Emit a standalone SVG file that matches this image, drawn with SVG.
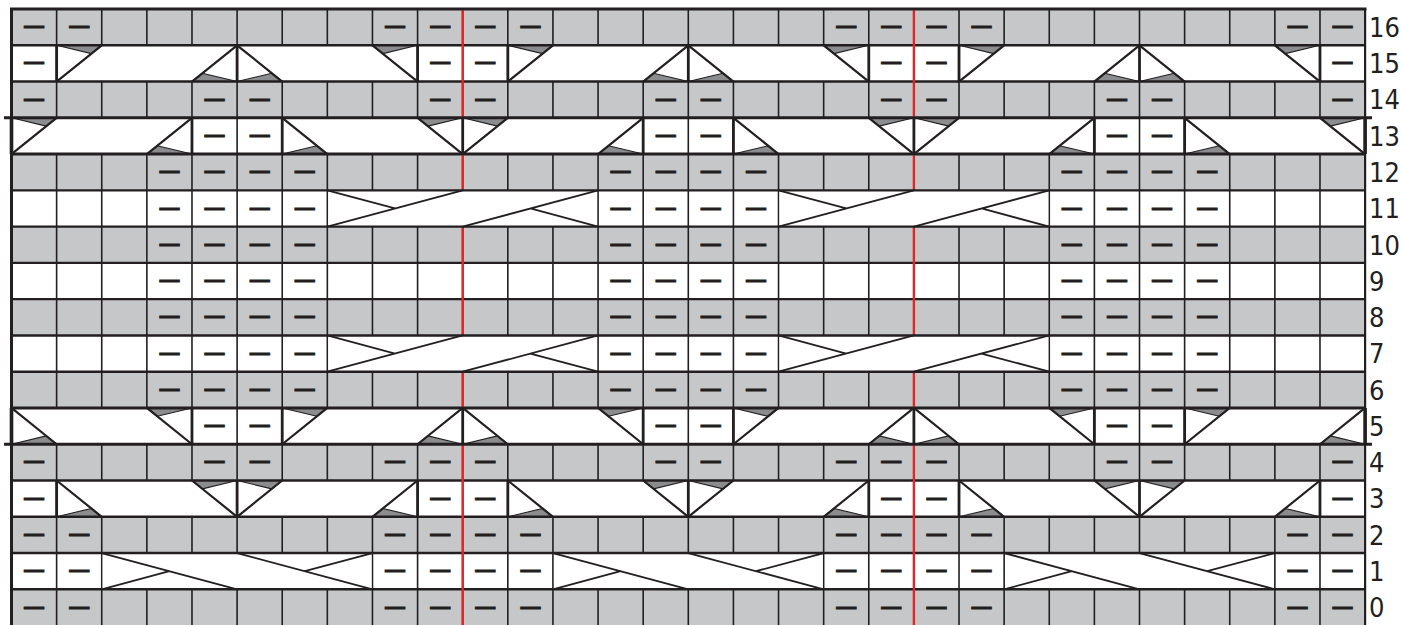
<svg xmlns="http://www.w3.org/2000/svg" width="1401" height="625" viewBox="0 0 1401 625">
<style>
.gr{fill:#c6c7c9}
.wh{fill:#ffffff}
.vl{stroke:#231f20;stroke-width:1.6;fill:none}
.vt{stroke:#231f20;stroke-width:2.8;fill:none}
.hl{stroke:#231f20;stroke-width:2.4;fill:none}
.ht{stroke:#231f20;stroke-width:3;fill:none}
.dg{stroke:#231f20;stroke-width:2.2;fill:none}
.wg{fill:#8b8c8e;stroke:#231f20;stroke-width:1.1;stroke-linejoin:round}
.cx{stroke:#231f20;stroke-width:1.8;fill:none}
.rd{stroke:#e0262b;stroke-width:2.4;fill:none}
.p text{font-family:"Liberation Sans",Arial,sans-serif;font-weight:bold;font-size:20px;text-anchor:middle;fill:#231f20;stroke:#231f20;stroke-width:0.8}
.lb text{font-family:"Liberation Sans Narrow","DejaVu Sans Condensed","Liberation Sans",sans-serif;font-stretch:condensed;font-size:27px;fill:#231f20}
</style>
<rect width="1401" height="625" fill="#ffffff"/>
<g id="rows">
<rect class="gr" x="11.5" y="9" width="1353.6" height="36.27"/>
<rect class="gr" x="11.5" y="81.54" width="1353.6" height="36.27"/>
<rect class="gr" x="11.5" y="154.08" width="1353.6" height="36.27"/>
<rect class="gr" x="11.5" y="226.62" width="1353.6" height="36.27"/>
<rect class="gr" x="11.5" y="299.16" width="1353.6" height="36.27"/>
<rect class="gr" x="11.5" y="371.7" width="1353.6" height="36.27"/>
<rect class="gr" x="11.5" y="444.24" width="1353.6" height="36.27"/>
<rect class="gr" x="11.5" y="516.78" width="1353.6" height="36.27"/>
<rect class="gr" x="11.5" y="589.32" width="1353.6" height="36.27"/>
</g>
<g id="grid-verticals">
<path class="vl" d="M56.62,9V625M101.74,9V625M146.86,9V625M191.98,9V625M237.1,9V625M282.22,9V625M327.34,9V625M372.46,9V625M417.58,9V625M462.7,9V625M507.82,9V625M552.94,9V625M598.06,9V625M643.18,9V625M688.3,9V625M733.42,9V625M778.54,9V625M823.66,9V625M868.78,9V625M913.9,9V625M959.02,9V625M1004.14,9V625M1049.26,9V625M1094.38,9V625M1139.5,9V625M1184.62,9V625M1229.74,9V625M1274.86,9V625M1319.98,9V625"/>
</g>
<g id="cable-areas">
<rect class="wh" x="57.62" y="45.27" width="358.96" height="36.27"/>
<rect class="wh" x="508.82" y="45.27" width="358.96" height="36.27"/>
<rect class="wh" x="960.02" y="45.27" width="358.96" height="36.27"/>
<rect class="wh" x="57.62" y="480.51" width="358.96" height="36.27"/>
<rect class="wh" x="508.82" y="480.51" width="358.96" height="36.27"/>
<rect class="wh" x="960.02" y="480.51" width="358.96" height="36.27"/>
<rect class="wh" x="12.5" y="117.81" width="178.48" height="36.27"/>
<rect class="wh" x="283.22" y="117.81" width="358.96" height="36.27"/>
<rect class="wh" x="734.42" y="117.81" width="358.96" height="36.27"/>
<rect class="wh" x="1185.62" y="117.81" width="178.48" height="36.27"/>
<rect class="wh" x="12.5" y="407.97" width="178.48" height="36.27"/>
<rect class="wh" x="283.22" y="407.97" width="358.96" height="36.27"/>
<rect class="wh" x="734.42" y="407.97" width="358.96" height="36.27"/>
<rect class="wh" x="1185.62" y="407.97" width="178.48" height="36.27"/>
<rect class="wh" x="328.34" y="190.35" width="268.72" height="36.27"/>
<rect class="wh" x="779.54" y="190.35" width="268.72" height="36.27"/>
<rect class="wh" x="328.34" y="335.43" width="268.72" height="36.27"/>
<rect class="wh" x="779.54" y="335.43" width="268.72" height="36.27"/>
<rect class="wh" x="102.74" y="553.05" width="268.72" height="36.27"/>
<rect class="wh" x="553.94" y="553.05" width="268.72" height="36.27"/>
<rect class="wh" x="1005.14" y="553.05" width="268.72" height="36.27"/>
</g>
<g id="cable-edges">
<path class="vt" d="M56.62,45.27V81.54M237.1,45.27V81.54M417.58,45.27V81.54M507.82,45.27V81.54M688.3,45.27V81.54M868.78,45.27V81.54M959.02,45.27V81.54M1139.5,45.27V81.54M1319.98,45.27V81.54"/>
<path class="vt" d="M56.62,480.51V516.78M237.1,480.51V516.78M417.58,480.51V516.78M507.82,480.51V516.78M688.3,480.51V516.78M868.78,480.51V516.78M959.02,480.51V516.78M1139.5,480.51V516.78M1319.98,480.51V516.78"/>
<path class="vt" d="M191.98,117.81V154.08M282.22,117.81V154.08M462.7,117.81V154.08M643.18,117.81V154.08M733.42,117.81V154.08M913.9,117.81V154.08M1094.38,117.81V154.08M1184.62,117.81V154.08"/>
<path class="vt" d="M191.98,407.97V444.24M282.22,407.97V444.24M462.7,407.97V444.24M643.18,407.97V444.24M733.42,407.97V444.24M913.9,407.97V444.24M1094.38,407.97V444.24M1184.62,407.97V444.24"/>
</g>
<g id="wedges">
<path class="wg" d="M56.62,45.27L91.36,53.61L101.74,45.27ZM191.98,81.54L202.36,73.2L237.1,81.54ZM237.1,81.54L271.84,73.2L282.22,81.54ZM372.46,45.27L382.84,53.61L417.58,45.27ZM507.82,45.27L542.56,53.61L552.94,45.27ZM643.18,81.54L653.56,73.2L688.3,81.54ZM688.3,81.54L723.04,73.2L733.42,81.54ZM823.66,45.27L834.04,53.61L868.78,45.27ZM959.02,45.27L993.76,53.61L1004.14,45.27ZM1094.38,81.54L1104.76,73.2L1139.5,81.54ZM1139.5,81.54L1174.24,73.2L1184.62,81.54ZM1274.86,45.27L1285.24,53.61L1319.98,45.27Z"/>
<path class="wg" d="M56.62,516.78L91.36,508.44L101.74,516.78ZM191.98,480.51L202.36,488.85L237.1,480.51ZM237.1,480.51L271.84,488.85L282.22,480.51ZM372.46,516.78L382.84,508.44L417.58,516.78ZM507.82,516.78L542.56,508.44L552.94,516.78ZM643.18,480.51L653.56,488.85L688.3,480.51ZM688.3,480.51L723.04,488.85L733.42,480.51ZM823.66,516.78L834.04,508.44L868.78,516.78ZM959.02,516.78L993.76,508.44L1004.14,516.78ZM1094.38,480.51L1104.76,488.85L1139.5,480.51ZM1139.5,480.51L1174.24,488.85L1184.62,480.51ZM1274.86,516.78L1285.24,508.44L1319.98,516.78Z"/>
<path class="wg" d="M11.5,117.81L46.24,126.15L56.62,117.81ZM146.86,154.08L157.24,145.74L191.98,154.08ZM282.22,154.08L316.96,145.74L327.34,154.08ZM417.58,117.81L427.96,126.15L462.7,117.81ZM462.7,117.81L497.44,126.15L507.82,117.81ZM598.06,154.08L608.44,145.74L643.18,154.08ZM733.42,154.08L768.16,145.74L778.54,154.08ZM868.78,117.81L879.16,126.15L913.9,117.81ZM913.9,117.81L948.64,126.15L959.02,117.81ZM1049.26,154.08L1059.64,145.74L1094.38,154.08ZM1184.62,154.08L1219.36,145.74L1229.74,154.08ZM1319.98,117.81L1330.36,126.15L1365.1,117.81Z"/>
<path class="wg" d="M11.5,444.24L46.24,435.9L56.62,444.24ZM146.86,407.97L157.24,416.31L191.98,407.97ZM282.22,407.97L316.96,416.31L327.34,407.97ZM417.58,444.24L427.96,435.9L462.7,444.24ZM462.7,444.24L497.44,435.9L507.82,444.24ZM598.06,407.97L608.44,416.31L643.18,407.97ZM733.42,407.97L768.16,416.31L778.54,407.97ZM868.78,444.24L879.16,435.9L913.9,444.24ZM913.9,444.24L948.64,435.9L959.02,444.24ZM1049.26,407.97L1059.64,416.31L1094.38,407.97ZM1184.62,407.97L1219.36,416.31L1229.74,407.97ZM1319.98,444.24L1330.36,435.9L1365.1,444.24Z"/>
</g>
<g id="diagonals">
<path class="dg" d="M56.62,81.54L101.74,45.27M191.98,81.54L237.1,45.27M237.1,45.27L282.22,81.54M372.46,45.27L417.58,81.54M507.82,81.54L552.94,45.27M643.18,81.54L688.3,45.27M688.3,45.27L733.42,81.54M823.66,45.27L868.78,81.54M959.02,81.54L1004.14,45.27M1094.38,81.54L1139.5,45.27M1139.5,45.27L1184.62,81.54M1274.86,45.27L1319.98,81.54"/>
<path class="dg" d="M56.62,480.51L101.74,516.78M191.98,480.51L237.1,516.78M237.1,516.78L282.22,480.51M372.46,516.78L417.58,480.51M507.82,480.51L552.94,516.78M643.18,480.51L688.3,516.78M688.3,516.78L733.42,480.51M823.66,516.78L868.78,480.51M959.02,480.51L1004.14,516.78M1094.38,480.51L1139.5,516.78M1139.5,516.78L1184.62,480.51M1274.86,516.78L1319.98,480.51"/>
<path class="dg" d="M11.5,154.08L56.62,117.81M146.86,154.08L191.98,117.81M282.22,117.81L327.34,154.08M417.58,117.81L462.7,154.08M462.7,154.08L507.82,117.81M598.06,154.08L643.18,117.81M733.42,117.81L778.54,154.08M868.78,117.81L913.9,154.08M913.9,154.08L959.02,117.81M1049.26,154.08L1094.38,117.81M1184.62,117.81L1229.74,154.08M1319.98,117.81L1365.1,154.08"/>
<path class="dg" d="M11.5,407.97L56.62,444.24M146.86,407.97L191.98,444.24M282.22,444.24L327.34,407.97M417.58,444.24L462.7,407.97M462.7,407.97L507.82,444.24M598.06,407.97L643.18,444.24M733.42,444.24L778.54,407.97M868.78,444.24L913.9,407.97M913.9,407.97L959.02,444.24M1049.26,407.97L1094.38,444.24M1184.62,444.24L1229.74,407.97M1319.98,444.24L1365.1,407.97"/>
</g>
<g id="crosses">
<path class="cx" d="M101.74,553.05L237.1,589.32M101.74,589.32L169.42,571.19M237.1,553.05L372.46,589.32M304.78,571.19L372.46,553.05M552.94,553.05L688.3,589.32M552.94,589.32L620.62,571.19M688.3,553.05L823.66,589.32M755.98,571.19L823.66,553.05M1004.14,553.05L1139.5,589.32M1004.14,589.32L1071.82,571.19M1139.5,553.05L1274.86,589.32M1207.18,571.19L1274.86,553.05"/>
<path class="cx" d="M327.34,190.35L395.02,208.49M327.34,226.62L462.7,190.35M462.7,226.62L598.06,190.35M530.38,208.49L598.06,226.62M778.54,190.35L846.22,208.49M778.54,226.62L913.9,190.35M913.9,226.62L1049.26,190.35M981.58,208.49L1049.26,226.62"/>
<path class="cx" d="M327.34,335.43L395.02,353.57M327.34,371.7L462.7,335.43M462.7,371.7L598.06,335.43M530.38,353.57L598.06,371.7M778.54,335.43L846.22,353.57M778.54,371.7L913.9,335.43M913.9,371.7L1049.26,335.43M981.58,353.57L1049.26,371.7"/>
</g>
<g id="grid-horizontals">
<path class="hl" d="M11.5,45.27H1365.1M11.5,81.54H1365.1M11.5,190.35H1365.1M11.5,226.62H1365.1M11.5,262.89H1365.1M11.5,299.16H1365.1M11.5,335.43H1365.1M11.5,371.7H1365.1M11.5,480.51H1365.1M11.5,516.78H1365.1M11.5,553.05H1365.1M11.5,589.32H1365.1"/>
<path class="ht" d="M10,9H1366.5M4,117.81H1372M11.5,154.08H1365.1M11.5,407.97H1365.1M4,444.24H1372"/>
<path class="ht" d="M11.5,9V625"/>
<path class="vl" d="M1365.1,9V625" style="stroke-width:2.2"/>
<path class="ht" d="M11.5,117.81V154.08M1365.1,117.81V154.08M11.5,407.97V444.24M1365.1,407.97V444.24" style="stroke-width:3.6"/>
</g>
<g id="red-lines">
<path class="rd" d="M462.7,10.5V116.3M462.7,155.6V188.9M462.7,228.1V334M462.7,373.2V406.5M462.7,445.7V625M913.9,10.5V116.3M913.9,155.6V188.9M913.9,228.1V334M913.9,373.2V406.5M913.9,445.7V625"/>
</g>
<g id="purl" class="p">
<text x="34.06" y="32.1">—</text><text x="79.18" y="32.1">—</text><text x="395.02" y="32.1">—</text><text x="440.14" y="32.1">—</text><text x="485.26" y="32.1">—</text><text x="530.38" y="32.1">—</text><text x="846.22" y="32.1">—</text><text x="891.34" y="32.1">—</text><text x="936.46" y="32.1">—</text><text x="981.58" y="32.1">—</text><text x="1297.42" y="32.1">—</text><text x="1342.54" y="32.1">—</text>
<text x="34.06" y="68.4">—</text><text x="440.14" y="68.4">—</text><text x="485.26" y="68.4">—</text><text x="891.34" y="68.4">—</text><text x="936.46" y="68.4">—</text><text x="1342.54" y="68.4">—</text>
<text x="34.06" y="104.7">—</text><text x="214.54" y="104.7">—</text><text x="259.66" y="104.7">—</text><text x="440.14" y="104.7">—</text><text x="485.26" y="104.7">—</text><text x="665.74" y="104.7">—</text><text x="710.86" y="104.7">—</text><text x="891.34" y="104.7">—</text><text x="936.46" y="104.7">—</text><text x="1116.94" y="104.7">—</text><text x="1162.06" y="104.7">—</text><text x="1342.54" y="104.7">—</text>
<text x="214.54" y="141">—</text><text x="259.66" y="141">—</text><text x="665.74" y="141">—</text><text x="710.86" y="141">—</text><text x="1116.94" y="141">—</text><text x="1162.06" y="141">—</text>
<text x="169.42" y="177.2">—</text><text x="214.54" y="177.2">—</text><text x="259.66" y="177.2">—</text><text x="304.78" y="177.2">—</text><text x="620.62" y="177.2">—</text><text x="665.74" y="177.2">—</text><text x="710.86" y="177.2">—</text><text x="755.98" y="177.2">—</text><text x="1071.82" y="177.2">—</text><text x="1116.94" y="177.2">—</text><text x="1162.06" y="177.2">—</text><text x="1207.18" y="177.2">—</text>
<text x="169.42" y="213.5">—</text><text x="214.54" y="213.5">—</text><text x="259.66" y="213.5">—</text><text x="304.78" y="213.5">—</text><text x="620.62" y="213.5">—</text><text x="665.74" y="213.5">—</text><text x="710.86" y="213.5">—</text><text x="755.98" y="213.5">—</text><text x="1071.82" y="213.5">—</text><text x="1116.94" y="213.5">—</text><text x="1162.06" y="213.5">—</text><text x="1207.18" y="213.5">—</text>
<text x="169.42" y="249.8">—</text><text x="214.54" y="249.8">—</text><text x="259.66" y="249.8">—</text><text x="304.78" y="249.8">—</text><text x="620.62" y="249.8">—</text><text x="665.74" y="249.8">—</text><text x="710.86" y="249.8">—</text><text x="755.98" y="249.8">—</text><text x="1071.82" y="249.8">—</text><text x="1116.94" y="249.8">—</text><text x="1162.06" y="249.8">—</text><text x="1207.18" y="249.8">—</text>
<text x="169.42" y="286">—</text><text x="214.54" y="286">—</text><text x="259.66" y="286">—</text><text x="304.78" y="286">—</text><text x="620.62" y="286">—</text><text x="665.74" y="286">—</text><text x="710.86" y="286">—</text><text x="755.98" y="286">—</text><text x="1071.82" y="286">—</text><text x="1116.94" y="286">—</text><text x="1162.06" y="286">—</text><text x="1207.18" y="286">—</text>
<text x="169.42" y="322.3">—</text><text x="214.54" y="322.3">—</text><text x="259.66" y="322.3">—</text><text x="304.78" y="322.3">—</text><text x="620.62" y="322.3">—</text><text x="665.74" y="322.3">—</text><text x="710.86" y="322.3">—</text><text x="755.98" y="322.3">—</text><text x="1071.82" y="322.3">—</text><text x="1116.94" y="322.3">—</text><text x="1162.06" y="322.3">—</text><text x="1207.18" y="322.3">—</text>
<text x="169.42" y="358.6">—</text><text x="214.54" y="358.6">—</text><text x="259.66" y="358.6">—</text><text x="304.78" y="358.6">—</text><text x="620.62" y="358.6">—</text><text x="665.74" y="358.6">—</text><text x="710.86" y="358.6">—</text><text x="755.98" y="358.6">—</text><text x="1071.82" y="358.6">—</text><text x="1116.94" y="358.6">—</text><text x="1162.06" y="358.6">—</text><text x="1207.18" y="358.6">—</text>
<text x="169.42" y="394.8">—</text><text x="214.54" y="394.8">—</text><text x="259.66" y="394.8">—</text><text x="304.78" y="394.8">—</text><text x="620.62" y="394.8">—</text><text x="665.74" y="394.8">—</text><text x="710.86" y="394.8">—</text><text x="755.98" y="394.8">—</text><text x="1071.82" y="394.8">—</text><text x="1116.94" y="394.8">—</text><text x="1162.06" y="394.8">—</text><text x="1207.18" y="394.8">—</text>
<text x="214.54" y="431.1">—</text><text x="259.66" y="431.1">—</text><text x="665.74" y="431.1">—</text><text x="710.86" y="431.1">—</text><text x="1116.94" y="431.1">—</text><text x="1162.06" y="431.1">—</text>
<text x="34.06" y="467.4">—</text><text x="214.54" y="467.4">—</text><text x="259.66" y="467.4">—</text><text x="395.02" y="467.4">—</text><text x="440.14" y="467.4">—</text><text x="485.26" y="467.4">—</text><text x="665.74" y="467.4">—</text><text x="710.86" y="467.4">—</text><text x="846.22" y="467.4">—</text><text x="891.34" y="467.4">—</text><text x="936.46" y="467.4">—</text><text x="1116.94" y="467.4">—</text><text x="1162.06" y="467.4">—</text><text x="1342.54" y="467.4">—</text>
<text x="34.06" y="503.6">—</text><text x="440.14" y="503.6">—</text><text x="485.26" y="503.6">—</text><text x="891.34" y="503.6">—</text><text x="936.46" y="503.6">—</text><text x="1342.54" y="503.6">—</text>
<text x="34.06" y="539.9">—</text><text x="79.18" y="539.9">—</text><text x="395.02" y="539.9">—</text><text x="440.14" y="539.9">—</text><text x="485.26" y="539.9">—</text><text x="530.38" y="539.9">—</text><text x="846.22" y="539.9">—</text><text x="891.34" y="539.9">—</text><text x="936.46" y="539.9">—</text><text x="981.58" y="539.9">—</text><text x="1297.42" y="539.9">—</text><text x="1342.54" y="539.9">—</text>
<text x="34.06" y="576.2">—</text><text x="79.18" y="576.2">—</text><text x="395.02" y="576.2">—</text><text x="440.14" y="576.2">—</text><text x="485.26" y="576.2">—</text><text x="530.38" y="576.2">—</text><text x="846.22" y="576.2">—</text><text x="891.34" y="576.2">—</text><text x="936.46" y="576.2">—</text><text x="981.58" y="576.2">—</text><text x="1297.42" y="576.2">—</text><text x="1342.54" y="576.2">—</text>
<text x="34.06" y="612.5">—</text><text x="79.18" y="612.5">—</text><text x="395.02" y="612.5">—</text><text x="440.14" y="612.5">—</text><text x="485.26" y="612.5">—</text><text x="530.38" y="612.5">—</text><text x="846.22" y="612.5">—</text><text x="891.34" y="612.5">—</text><text x="936.46" y="612.5">—</text><text x="981.58" y="612.5">—</text><text x="1297.42" y="612.5">—</text><text x="1342.54" y="612.5">—</text>
</g>
<g id="row-labels" class="lb">
<text x="1369" y="36.8">16</text>
<text x="1369" y="73.1">15</text>
<text x="1369" y="109.4">14</text>
<text x="1369" y="145.7">13</text>
<text x="1369" y="181.9">12</text>
<text x="1369" y="218.2">11</text>
<text x="1369" y="254.5">10</text>
<text x="1369" y="290.7">9</text>
<text x="1369" y="327">8</text>
<text x="1369" y="363.3">7</text>
<text x="1369" y="399.5">6</text>
<text x="1369" y="435.8">5</text>
<text x="1369" y="472.1">4</text>
<text x="1369" y="508.3">3</text>
<text x="1369" y="544.6">2</text>
<text x="1369" y="580.9">1</text>
<text x="1369" y="617.2">0</text>
</g>
</svg>
